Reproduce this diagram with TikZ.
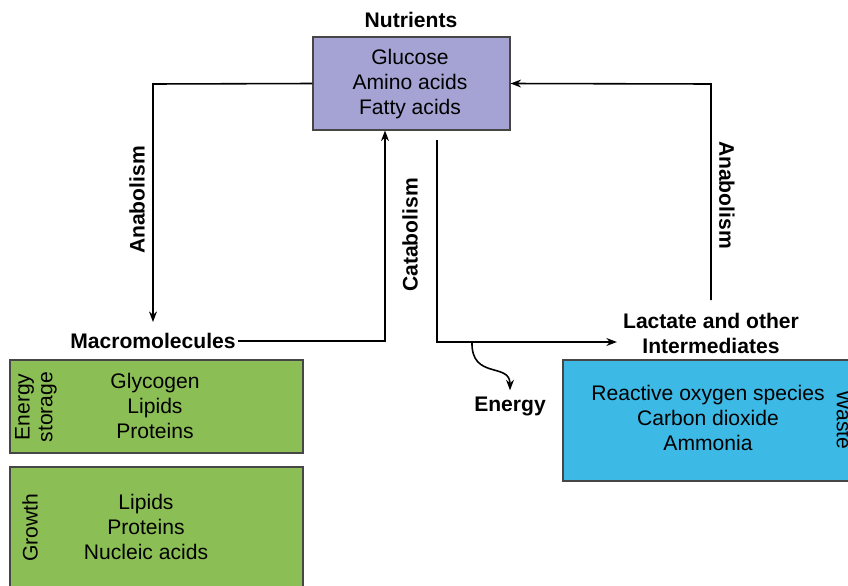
\documentclass[tikz,border=0pt]{standalone}
\usepackage{fontspec}
\setmainfont{Liberation Sans}
\usetikzlibrary{arrows.meta}
\definecolor{nutri}{RGB}{164,163,211}
\definecolor{macro}{RGB}{139,191,85}
\definecolor{waste}{RGB}{61,185,230}
\definecolor{edge}{RGB}{70,70,70}
\tikzset{
  box/.style={draw=edge, line width=0.6pt},
  items/.style={align=center, font=\fontsize{12}{14.2}\selectfont},
  head/.style={align=center, font=\fontsize{12}{14.2}\selectfont\bfseries},
  side/.style={align=center, font=\fontsize{12}{13}\selectfont},
  flow/.style={line width=0.9pt, -{Stealth[length=6pt,width=4.5pt]}}
}
\begin{document}
\begin{tikzpicture}[x=0.02cm, y=-0.02cm]
\useasboundingbox (0,0) rectangle (848,585);
\clip (0,0) rectangle (848,585);

% boxes
\node[box, fill=nutri, minimum width=197*0.02cm, minimum height=93*0.02cm] (nutri) at (411.5,83.5) {};
\node[box, fill=macro, minimum width=293*0.02cm, minimum height=93*0.02cm] (store) at (156.5,406.5) {};
\node[box, fill=macro, minimum width=293*0.02cm, minimum height=130*0.02cm] (growth) at (156.5,532) {};
\node[box, fill=waste, minimum width=300*0.02cm, minimum height=121*0.02cm] (waste) at (713,420.5) {};

% texts
\node[head] (nutrl) at (411,20) {Nutrients};
\node[items] (nutrt) at (410,84) {Glucose\\Amino acids\\Fatty acids};
\node[head, inner xsep=1pt] (macrol) at (153,341) {Macromolecules};
\node[head] (lact) at (711,333) {Lactate and other\\Intermediates};
\node[head] (energy) at (510,406) {Energy};
\node[items] (storet) at (155,406) {Glycogen\\Lipids\\Proteins};
\node[side, rotate=90] (storel) at (36,407) {Energy\\storage};
\node[items] (growtht) at (146,527) {Lipids\\Proteins\\Nucleic acids};
\node[side, rotate=90] (growthl) at (30,528) {Growth};
\node[items] (wastet) at (708,418) {Reactive oxygen species\\Carbon dioxide\\Ammonia};
\node[side, rotate=-90] (wastel) at (844,420) {Waste};

% anabolism to macromolecules
\coordinate (la) at (153,84);
\coordinate (lb) at (153,322);
\draw[flow] (nutri.west) -- (la) -- (lb);
\node[head, rotate=90] (anal) at (137,200) {Anabolism};

% macromolecules back to nutrients
\coordinate (ma) at (385,341);
\draw[flow] (macrol.east) -- (ma) -- (ma |- nutri.south);

% catabolism
\coordinate (ca) at (437,140);
\coordinate (cb) at (437,342);
\draw[flow] (ca) -- (cb) -- (lact.west |- cb);
\node[head, rotate=90] (catl) at (410,235) {Catabolism};

% energy released
\coordinate (ea) at (472,342);
\draw[flow] (ea) .. controls (471,380) and (510,362) .. (energy.north);

% lactate back to nutrients
\coordinate (ra) at (711,300);
\coordinate (rb) at (711,84);
\draw[flow] (ra) -- (rb) -- (nutri.east);
\node[head, rotate=-90] (anar) at (727,195) {Anabolism};

\end{tikzpicture}
\end{document}
